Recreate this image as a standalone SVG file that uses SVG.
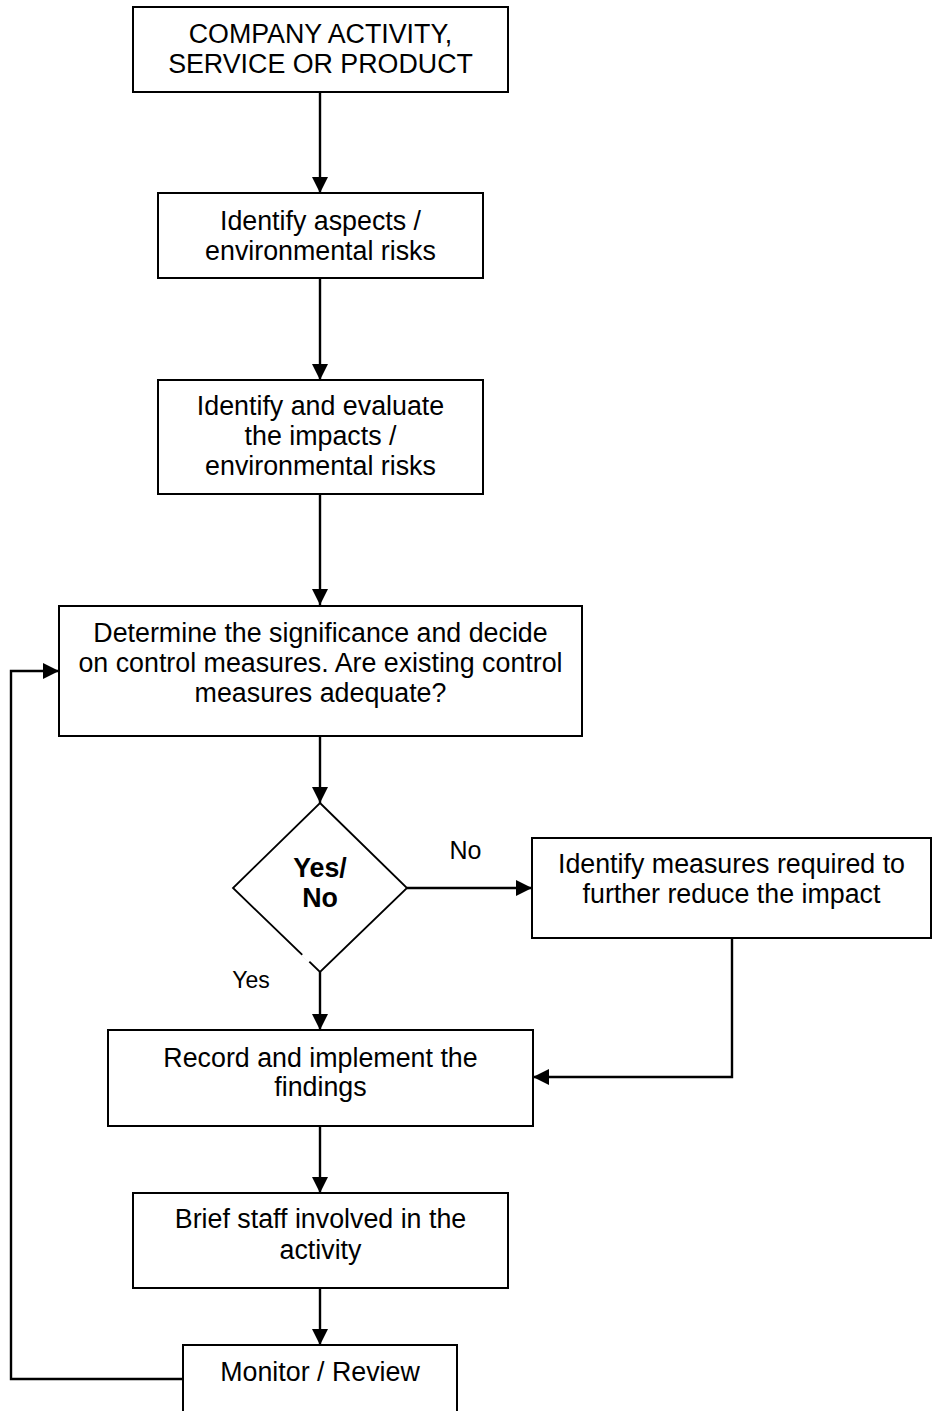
<svg xmlns="http://www.w3.org/2000/svg" width="936" height="1411" viewBox="0 0 936 1411">
<style>
.box{fill:#fff;stroke:#000;stroke-width:2}
.t{font-family:"Liberation Sans",Arial,sans-serif;font-size:26.8px;fill:#000;text-anchor:middle}
.b{font-weight:bold}
.lbl{font-family:"Liberation Sans",Arial,sans-serif;fill:#000;text-anchor:middle}
.c{fill:none;stroke:#000;stroke-width:2.4}
</style>
<defs>
<marker id="ah" markerUnits="userSpaceOnUse" markerWidth="17" markerHeight="17" viewBox="0 0 17 17" refX="16" refY="8.5" orient="auto">
<path d="M0,0.5 L16,8.5 L0,16.5 Z" fill="#000"/>
</marker>
</defs>
<rect width="936" height="1411" fill="#fff"/>
<g id="connectors">
<path class="c" d="M320,92 V193" marker-end="url(#ah)"/>
<path class="c" d="M320,278 V380" marker-end="url(#ah)"/>
<path class="c" d="M320,494 V605" marker-end="url(#ah)"/>
<path class="c" d="M320,736 V803" marker-end="url(#ah)"/>
<path class="c" d="M407,888 H532" marker-end="url(#ah)"/>
<path class="c" d="M320,972 V1030" marker-end="url(#ah)"/>
<path class="c" d="M732,938 V1077 H533" marker-end="url(#ah)"/>
<path class="c" d="M320,1126 V1193" marker-end="url(#ah)"/>
<path class="c" d="M320,1288 V1345" marker-end="url(#ah)"/>
<path class="c" d="M183,1379 H11 V671 H59" marker-end="url(#ah)"/>
</g>
<g id="n1"><rect class="box" x="133" y="7" width="375" height="85"/>
<text class="t" x="320.5" y="43">COMPANY ACTIVITY,</text>
<text class="t" x="320.5" y="73">SERVICE OR PRODUCT</text></g>
<g id="n2"><rect class="box" x="158" y="193" width="325" height="85"/>
<text class="t" x="320.5" y="230">Identify aspects /</text>
<text class="t" x="320.5" y="260">environmental risks</text></g>
<g id="n3"><rect class="box" x="158" y="380" width="325" height="114"/>
<text class="t" x="320.5" y="415">Identify and evaluate</text>
<text class="t" x="320.5" y="445">the impacts /</text>
<text class="t" x="320.5" y="475">environmental risks</text></g>
<g id="n4"><rect class="box" x="59" y="606" width="523" height="130"/>
<text class="t" x="320.5" y="642">Determine the significance and decide</text>
<text class="t" x="320.5" y="672">on control measures. Are existing control</text>
<text class="t" x="320.5" y="702">measures adequate?</text></g>
<g id="n5"><path d="M320,803 L407,888 L320,972 L233,888 Z" fill="#fff" stroke="#000" stroke-width="1.8"/>
<line x1="302.5" y1="954.5" x2="309.5" y2="961.5" stroke="#fff" stroke-width="3.5"/>
<text class="t b" x="320" y="877">Yes/</text>
<text class="t b" x="320" y="907">No</text></g>
<g id="n6"><rect class="box" x="532" y="838" width="399" height="100"/>
<text class="t" x="731.5" y="873">Identify measures required to</text>
<text class="t" x="731.5" y="903">further reduce the impact</text></g>
<g id="n7"><rect class="box" x="108" y="1030" width="425" height="96"/>
<text class="t" x="320.5" y="1067">Record and implement the</text>
<text class="t" x="320.5" y="1096">findings</text></g>
<g id="n8"><rect class="box" x="133" y="1193" width="375" height="95"/>
<text class="t" x="320.5" y="1228">Brief staff involved in the</text>
<text class="t" x="320.5" y="1259">activity</text></g>
<g id="n9"><rect class="box" x="183" y="1345" width="274" height="80"/>
<text class="t" x="320" y="1381">Monitor / Review</text></g>
<g id="labels">
<text class="lbl" x="465.5" y="859" font-size="25">No</text>
<text class="lbl" x="251" y="988" font-size="23">Yes</text>
</g>
</svg>
